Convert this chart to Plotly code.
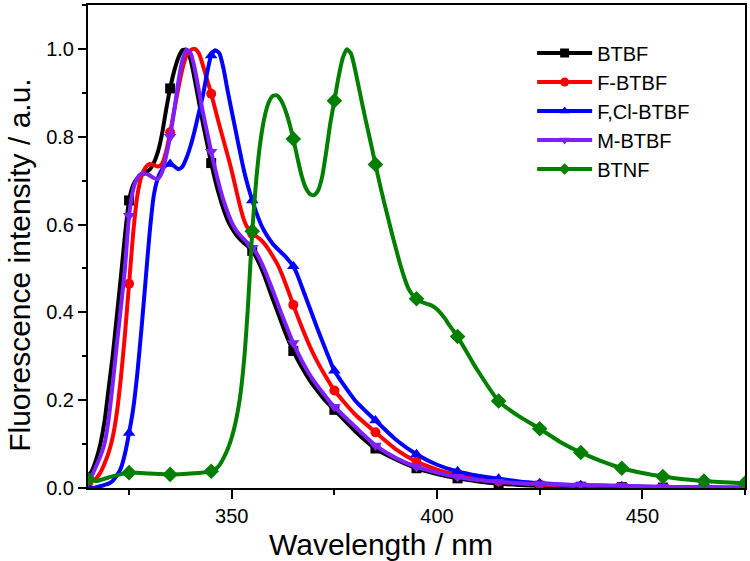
import plotly.graph_objects as go

# Wavelength grids (nm)
WL_A = list(range(315, 376)) + list(range(380, 476, 5))
WL_G = [315, 317, 320, 325, 330, 335, 340, 345] + list(range(346, 411)) + list(range(415, 476, 5))

BTBF = [0.025, 0.04, 0.065, 0.10, 0.15, 0.225, 0.30, 0.39, 0.48, 0.575,
        0.655, 0.69, 0.705, 0.712, 0.718, 0.725, 0.74, 0.765, 0.805, 0.86,
        0.91, 0.95, 0.98, 0.997, 0.998, 0.975, 0.93, 0.88, 0.83, 0.785,
        0.74, 0.70, 0.665, 0.635, 0.61, 0.592, 0.578, 0.567, 0.558, 0.55,
        0.54, 0.525, 0.505, 0.482, 0.456, 0.43, 0.405, 0.38, 0.355, 0.332,
        0.312, 0.293, 0.276, 0.26, 0.245, 0.232, 0.22, 0.208, 0.197, 0.187,
        0.178,
        0.13, 0.09, 0.065, 0.045, 0.032, 0.022, 0.015, 0.01, 0.007, 0.005,
        0.004, 0.003, 0.002, 0.002, 0.001, 0.001, 0.001, 0.001, 0.0, 0.0]

F_BTBF = [0.01, 0.015, 0.022, 0.035, 0.055, 0.08, 0.115, 0.17, 0.25, 0.35,
          0.465, 0.58, 0.665, 0.71, 0.73, 0.738, 0.736, 0.732, 0.738, 0.765,
          0.81, 0.86, 0.91, 0.955, 0.985, 0.997, 1.0, 0.99, 0.962, 0.93,
          0.898, 0.862, 0.826, 0.792, 0.758, 0.722, 0.682, 0.643, 0.61, 0.59,
          0.579, 0.573, 0.566, 0.556, 0.543, 0.528, 0.512, 0.492, 0.468, 0.443,
          0.417, 0.392, 0.368, 0.345, 0.323, 0.303, 0.285, 0.268, 0.252, 0.237,
          0.222,
          0.168, 0.127, 0.088, 0.06, 0.042, 0.03, 0.021, 0.015, 0.011, 0.008,
          0.006, 0.004, 0.003, 0.002, 0.002, 0.001, 0.001, 0.001, 0.0, 0.0]

FCL_BTBF = [0.0, 0.0, 0.002, 0.004, 0.007, 0.01, 0.016, 0.028, 0.045, 0.078,
            0.125, 0.18, 0.26, 0.36, 0.47, 0.58, 0.665, 0.705, 0.725, 0.735,
            0.738, 0.733, 0.726, 0.732, 0.752, 0.78, 0.815, 0.855, 0.895, 0.945,
            0.985, 0.997, 0.99, 0.955, 0.905, 0.858, 0.812, 0.766, 0.722, 0.686,
            0.655, 0.627, 0.603, 0.584, 0.569, 0.556, 0.546, 0.537, 0.528, 0.517,
            0.505, 0.485, 0.46, 0.435, 0.41, 0.385, 0.36, 0.336, 0.312, 0.289,
            0.267,
            0.20, 0.154, 0.11, 0.077, 0.053, 0.038, 0.028, 0.021, 0.015, 0.011,
            0.008, 0.006, 0.005, 0.004, 0.003, 0.002, 0.002, 0.001, 0.001, 0.001]

M_BTBF = [0.02, 0.03, 0.05, 0.072, 0.10, 0.155, 0.235, 0.325, 0.41, 0.50,
          0.62, 0.68, 0.706, 0.716, 0.716, 0.712, 0.706, 0.704, 0.718, 0.755,
          0.80, 0.86, 0.925, 0.975, 0.998, 0.99, 0.955, 0.905, 0.855, 0.81,
          0.766, 0.725, 0.688, 0.655, 0.628, 0.605, 0.588, 0.576, 0.566, 0.557,
          0.547, 0.535, 0.518, 0.497, 0.474, 0.45, 0.425, 0.40, 0.376, 0.352,
          0.33, 0.31, 0.291, 0.274, 0.258, 0.244, 0.231, 0.219, 0.207, 0.195,
          0.185,
          0.14, 0.097, 0.068, 0.048, 0.035, 0.025, 0.018, 0.014, 0.011, 0.009,
          0.008, 0.007, 0.006, 0.005, 0.004, 0.003, 0.002, 0.002, 0.001, 0.001]

BTNF = [0.02, 0.016, 0.024, 0.035, 0.033, 0.031, 0.033, 0.038,
        0.043, 0.052, 0.068, 0.088, 0.115, 0.152, 0.205, 0.29, 0.42, 0.585,
        0.705, 0.79, 0.845, 0.878, 0.893, 0.894, 0.883, 0.862, 0.832, 0.795,
        0.752, 0.712, 0.684, 0.67, 0.667, 0.677, 0.708, 0.765, 0.83, 0.882,
        0.935, 0.978, 0.999, 0.99, 0.955, 0.91, 0.865, 0.822, 0.78, 0.737,
        0.695, 0.655, 0.618, 0.58, 0.545, 0.51, 0.48, 0.455, 0.44, 0.431,
        0.425, 0.421, 0.418, 0.414, 0.407, 0.397, 0.385, 0.371, 0.358, 0.345,
        0.329, 0.313, 0.297, 0.281, 0.266,
        0.198, 0.163, 0.135, 0.105, 0.081, 0.061, 0.045, 0.034, 0.026, 0.02,
        0.016, 0.013, 0.011]

NAMES = ["BTBF", "F-BTBF", "F,Cl-BTBF", "M-BTBF", "BTNF"]
COLORS = ["#000000", "#FF0000", "#0000FF", "#7F1FFF", "#007F00"]
SYMBOLS = ["square", "circle", "triangle-up", "triangle-down", "diamond"]
SIZES = [10, 10, 11, 11, 12]
XS = [WL_A, WL_A, WL_A, WL_A, WL_G]
YS = [BTBF, F_BTBF, FCL_BTBF, M_BTBF, BTNF]

FONT = "Arial, Liberation Sans, sans-serif"

fig = go.Figure()
for name, col, sym, ms, xs, ys in zip(NAMES, COLORS, SYMBOLS, SIZES, XS, YS):
    fig.add_trace(go.Scatter(x=xs, y=ys, mode="lines",
                             line=dict(color=col, width=4, shape="spline", smoothing=0.6),
                             showlegend=False, legendgroup=name, hoverinfo="skip"))
    mx = [w for w in xs if (w - 315) % 10 == 0]
    my = [v for w, v in zip(xs, ys) if (w - 315) % 10 == 0]
    fig.add_trace(go.Scatter(x=mx, y=my, mode="markers",
                             marker=dict(symbol=sym, size=ms, color=col),
                             showlegend=False, legendgroup=name))
    fig.add_trace(go.Scatter(x=[None], y=[None], mode="lines+markers", name=name,
                             line=dict(color=col, width=4),
                             marker=dict(symbol=sym, size=9, color=col),
                             legendgroup=name))

fig.update_layout(
    width=750, height=561,
    margin=dict(l=88, r=5, t=3, b=73),
    paper_bgcolor="white", plot_bgcolor="white",
    font=dict(family=FONT, color="black"),
    showlegend=True,
    legend=dict(x=0.676, y=0.941, xanchor="left", yanchor="top",
                font=dict(size=20, family=FONT), bgcolor="rgba(0,0,0,0)",
                itemwidth=55, tracegroupgap=0),
    xaxis=dict(range=[315, 475], showline=True, linecolor="black", linewidth=2,
               mirror=True, showgrid=False, zeroline=False,
               tickmode="linear", tick0=300, dtick=50, ticks="outside",
               ticklen=9, tickwidth=2, tickcolor="black",
               tickfont=dict(size=20, family=FONT),
               minor=dict(ticks="outside", ticklen=5, tickwidth=2, tickcolor="black",
                          dtick=25, tick0=300, showgrid=False)),
    yaxis=dict(range=[0, 1.1], showline=True, linecolor="black", linewidth=2,
               mirror=True, showgrid=False, zeroline=False,
               tickmode="linear", tick0=0, dtick=0.2, tickformat=".1f",
               ticks="outside", ticklen=8, tickwidth=2, tickcolor="black",
               tickfont=dict(size=20, family=FONT),
               minor=dict(ticks="outside", ticklen=4, tickwidth=2, tickcolor="black",
                          dtick=0.1, tick0=0, showgrid=False)),
    annotations=[
        dict(text="Wavelength / nm", xref="paper", yref="paper",
             x=0.4467, y=-0.1175, xanchor="center", yanchor="middle",
             showarrow=False, font=dict(size=30, family=FONT, color="black")),
        dict(text="Fluorescence intensity / a.u.", xref="paper", yref="paper",
             x=-0.1035, y=0.462, xanchor="center", yanchor="middle", textangle=-90,
             showarrow=False, font=dict(size=30, family=FONT, color="black")),
    ],
)

fig.write_html("out.html", config={"displayModeBar": False},
               post_script="document.body.style.margin='0px';")
